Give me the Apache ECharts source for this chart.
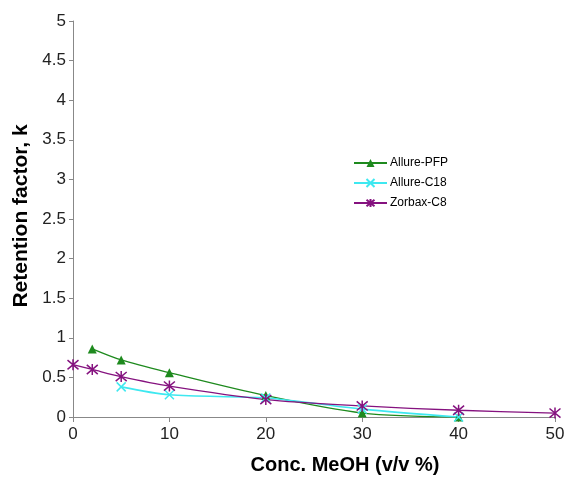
<!DOCTYPE html>
<html><head><meta charset="utf-8">
<script src="https://cdn.jsdelivr.net/npm/echarts@6/dist/echarts.min.js"></script>
<style>html,body{margin:0;padding:0;background:#fff}#c{width:567px;height:478px}</style>
</head><body><div id="c"></div>
<script>
const pfpX = [2, 5, 10, 20, 30, 40];
const pfpY = [0.86, 0.72, 0.56, 0.27, 0.05, 0.0];
const c18X = [5, 10, 20, 30, 40];
const c18Y = [0.38, 0.28, 0.24, 0.1, 0.0];
const c8X = [0, 2, 5, 10, 20, 30, 40, 50];
const c8Y = [0.66, 0.6, 0.51, 0.39, 0.22, 0.14, 0.085, 0.05];
const seriesNames = ['Allure-PFP', 'Allure-C18', 'Zorbax-C8'];
const xTitle = 'Conc. MeOH (v/v %)';
const yTitle = 'Retention factor, k';

const pair = (xs, ys) => xs.map((x, i) => [x, ys[i]]);
const xPath = 'path://M0,0L10,10M10,0L0,10';
const starPath = 'path://M0,0L10,10M10,0L0,10M5,-1L5,11';
const font = 'Liberation Sans, Arial, sans-serif';

const chart = echarts.init(document.getElementById('c'), null, {renderer: 'canvas'});
chart.setOption({
  animation: false,
  grid: {left: 73, right: 12, top: 21, bottom: 61, containLabel: false, outerBoundsMode: 'none'},
  legend: {
    orient: 'vertical', left: 348, top: 152, itemGap: 8, itemWidth: 33, itemHeight: 10,
    textStyle: {fontFamily: font, fontSize: 12, color: '#000', padding: [0, 0, 0, -2]},
    data: seriesNames
  },
  xAxis: {
    type: 'value', min: 0, max: 50, interval: 10,
    name: xTitle, nameLocation: 'middle', nameGap: 38,
    nameTextStyle: {fontFamily: font, fontSize: 20, fontWeight: 'bold', color: '#000', padding: [0, 0, 0, 62]},
    axisLine: {lineStyle: {color: '#888', width: 1}},
    axisTick: {show: true, length: 5, lineStyle: {color: '#888'}},
    axisLabel: {fontFamily: font, fontSize: 17, color: '#222', margin: 9},
    splitLine: {show: false}
  },
  yAxis: {
    type: 'value', min: 0, max: 5, interval: 0.5,
    name: yTitle, nameLocation: 'middle', nameGap: 32,
    nameTextStyle: {fontFamily: font, fontSize: 21, fontWeight: 'bold', color: '#000', padding: [0, 0, 0, 6]},
    axisLine: {show: true, lineStyle: {color: '#888', width: 1}},
    axisTick: {show: true, length: 4, lineStyle: {color: '#888'}},
    axisLabel: {fontFamily: font, fontSize: 17, color: '#222', margin: 7},
    splitLine: {show: false}
  },
  series: [
    {
      name: seriesNames[0], type: 'line', data: pair(pfpX, pfpY), smooth: 0.3,
      symbol: 'triangle', symbolSize: 9,
      itemStyle: {color: '#1e8a1e'}, lineStyle: {color: '#1e8a1e', width: 1.3}
    },
    {
      name: seriesNames[1], type: 'line', data: pair(c18X, c18Y), smooth: 0.3,
      symbol: xPath, symbolSize: 9,
      itemStyle: {color: '#3ee8f0', borderColor: '#3ee8f0', borderWidth: 1.5},
      lineStyle: {color: '#3ee8f0', width: 1.6}
    },
    {
      name: seriesNames[2], type: 'line', data: pair(c8X, c8Y), smooth: 0.3,
      symbol: starPath, symbolSize: 11,
      itemStyle: {color: '#85127f', borderColor: '#85127f', borderWidth: 1.5},
      lineStyle: {color: '#85127f', width: 1.3}
    }
  ]
});
</script></body></html>
